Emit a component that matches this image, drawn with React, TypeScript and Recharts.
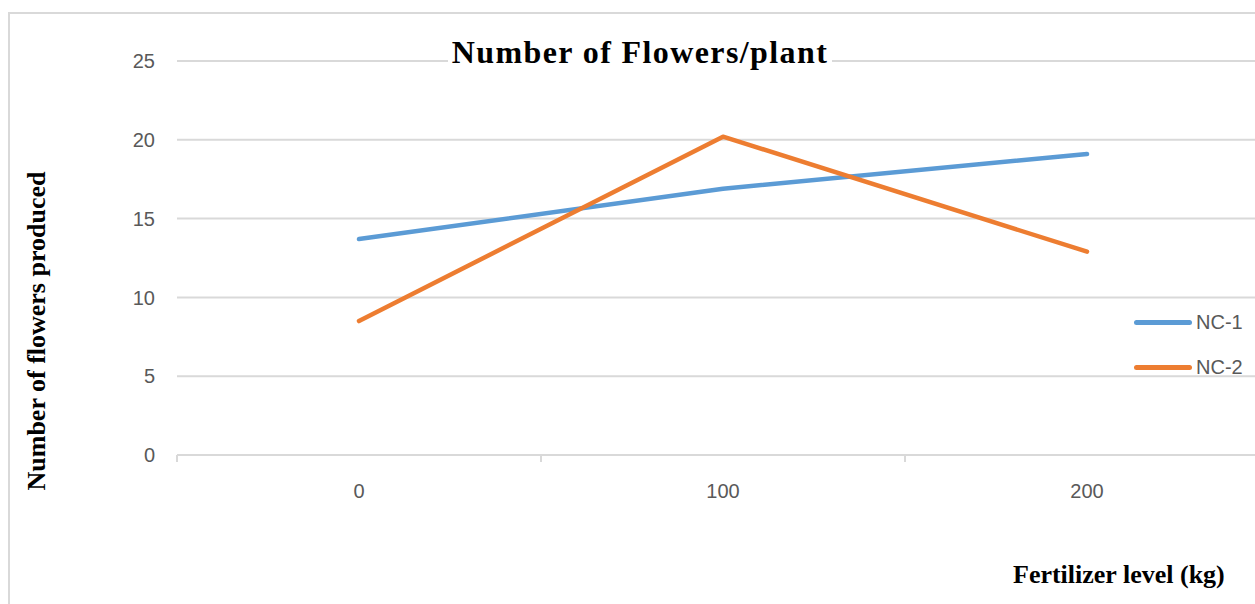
import React from "react";
import {
  ComposedChart,
  Line,
  XAxis,
  YAxis,
  CartesianGrid,
} from "recharts";

// Fertilizer level (kg) categories and flower counts per plant
const levels = ["0", "100", "200"];
const nc1 = [13.7, 16.9, 19.1];
const nc2 = [8.5, 20.2, 12.9];
const yTicks = [0, 5, 10, 15, 20, 25];

const series = [
  { key: "nc1", name: "NC-1", color: "#5B9BD5", values: nc1 },
  { key: "nc2", name: "NC-2", color: "#ED7D31", values: nc2 },
];

const data = levels.map((lvl, i) => {
  const row: Record<string, string | number> = { level: lvl };
  series.forEach((s) => {
    row[s.key] = s.values[i];
  });
  return row;
});

const W = 1290;
const H = 604;
const M = { top: 61, right: 21, left: 0, bottom: 109 };
const X_AXIS_H = 40;
const Y_AXIS_W = 177;
const X_TICK_MARGIN = 29;
const AXIS_Y = H - M.bottom - X_AXIS_H;

const GRID = "#d9d9d9";
const TICK_TEXT = "#595959";
const SANS = '"Liberation Sans", Arial, sans-serif';
const SERIF = '"Liberation Serif", "Times New Roman", serif';

function XTick(props: any) {
  const { x, y, payload } = props;
  const boundary = payload.coordinate - (payload.offset || 0);
  return (
    <g>
      <line x1={boundary} x2={boundary} y1={AXIS_Y} y2={AXIS_Y + 7} stroke={GRID} strokeWidth={2} />
      <text x={x} y={y} dy="0.71em" textAnchor="middle" fill={TICK_TEXT} fontSize={20} fontFamily={SANS}>
        {payload.value}
      </text>
    </g>
  );
}

export default function App() {
  return (
    <div
      style={{
        position: "absolute",
        left: 0,
        top: 0,
        width: 1255,
        height: 604,
        overflow: "hidden",
        background: "#fff",
      }}
    >
      <div
        style={{
          position: "absolute",
          left: 8,
          top: 12,
          width: 1400,
          height: 800,
          borderLeft: `2px solid ${GRID}`,
          borderTop: `2px solid ${GRID}`,
        }}
      />
      <div style={{ position: "absolute", left: 0, top: 0 }}>
        <ComposedChart width={W} height={H} data={data} margin={M}>
          <CartesianGrid vertical={false} stroke={GRID} strokeWidth={2} />
          <XAxis
            dataKey="level"
            scale="band"
            height={X_AXIS_H}
            axisLine={{ stroke: GRID, strokeWidth: 2 }}
            tickLine={false}
            tickSize={0}
            tickMargin={X_TICK_MARGIN}
            tick={<XTick />}
            interval={0}
          />
          <YAxis
            width={Y_AXIS_W}
            domain={[0, 25]}
            ticks={yTicks}
            axisLine={false}
            tickLine={false}
            tickSize={0}
            tickMargin={22}
            tick={{ fill: TICK_TEXT, fontSize: 20, fontFamily: SANS }}
          />
          {series.map((s) => (
            <Line
              key={s.key}
              type="linear"
              dataKey={s.key}
              name={s.name}
              stroke={s.color}
              strokeWidth={4.5}
              strokeLinecap="round"
              strokeLinejoin="round"
              dot={false}
              activeDot={false}
              isAnimationActive={false}
            />
          ))}
        </ComposedChart>
      </div>

      {/* title */}
      <div
        style={{
          position: "absolute",
          left: 340,
          top: 36,
          width: 600,
          textAlign: "center",
          lineHeight: "32px",
        }}
      >
        <span
          style={{
            background: "#fff",
            fontFamily: SERIF,
            fontWeight: "bold",
            fontSize: 32,
            letterSpacing: 1.4,
            color: "#000",
            padding: "0 4px",
          }}
        >
          Number of Flowers/plant
        </span>
      </div>

      {/* y axis title */}
      <div
        style={{
          position: "absolute",
          left: 37,
          top: 331,
          transform: "translate(-50%, -50%) rotate(-90deg)",
          whiteSpace: "nowrap",
          fontFamily: SERIF,
          fontWeight: "bold",
          fontSize: 26,
          lineHeight: "26px",
          color: "#000",
        }}
      >
        Number of flowers produced
      </div>

      {/* x axis title */}
      <div
        style={{
          position: "absolute",
          left: 1013,
          top: 562,
          whiteSpace: "nowrap",
          fontFamily: SERIF,
          fontWeight: "bold",
          fontSize: 26,
          lineHeight: "26px",
          color: "#000",
        }}
      >
        Fertilizer level (kg)
      </div>

      {/* legend */}
      <div style={{ position: "absolute", left: 1134, top: 300 }}>
        {series.map((s) => (
          <div key={s.key} style={{ display: "flex", alignItems: "center", height: 45 }}>
            <div style={{ width: 58, height: 5, borderRadius: 3, background: s.color }} />
            <span
              style={{
                marginLeft: 4,
                fontFamily: SANS,
                fontSize: 20,
                color: TICK_TEXT,
              }}
            >
              {s.name}
            </span>
          </div>
        ))}
      </div>
    </div>
  );
}
